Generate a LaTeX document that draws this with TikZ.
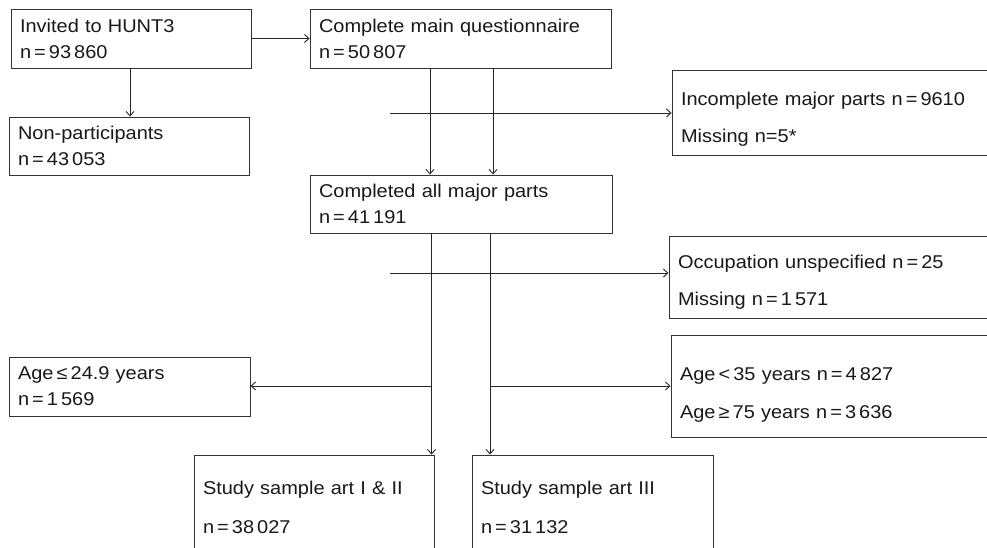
\documentclass[tikz,border=0pt]{standalone}
\usepackage{fontspec}
\setmainfont{Liberation Sans}[WordSpace=1.8, FakeStretch=1.08]
\usetikzlibrary{arrows.meta}
\begin{document}
\begin{tikzpicture}[x=1pt,y=-1pt,
  box/.style={draw=black!80, line width=0.9pt, inner xsep=9pt, inner ysep=0pt,
    align=left, anchor=center, text=black!90,
    font=\fontsize{18.5}{26}\selectfont},
  conn/.style={draw=black!85, line width=0.9pt},
  arr/.style={conn, -{Straight Barb[length=4.5pt,width=8pt]}}]
\useasboundingbox (0,0) rectangle (987,547);
\fill[white] (0,0) rectangle (987,547);
\clip (0,0) rectangle (987,547);

\node[box, text width=222pt, minimum height=59pt] (inv) at (131,38.5)
  {Invited to HUNT3\\n\,=\,93\,860};
\node[box, text width=283pt, minimum height=59pt] (cmq) at (460.5,38.5)
  {Complete main questionnaire\\n\,=\,50\,807};
\node[box, text width=222pt, minimum height=58pt] (non) at (129,146)
  {Non-participants\\n\,=\,43\,053};
\node[box, text width=310pt, minimum height=85pt, text height=27pt] (inc) at (836,112.5)
  {Incomplete major parts n\,=\,9610\\[11pt]Missing n=5*};
\node[box, text width=284pt, minimum height=58pt] (cam) at (461,204)
  {Completed all major parts\\n\,=\,41\,191};
\node[box, text width=313pt, minimum height=82pt, text height=23pt] (occ) at (834.5,277)
  {Occupation unspecified n\,=\,25\\[11pt]Missing n\,=\,1\,571};
\node[box, text width=223pt, minimum height=59pt] (ageA) at (129.5,386.5)
  {Age\,≤\,24.9 years\\n\,=\,1\,569};
\node[box, text width=311pt, minimum height=102pt, text height=30pt] (ageB) at (835.5,386)
  {Age\,<\,35 years n\,=\,4\,827\\[12pt]Age\,≥\,75 years n\,=\,3\,636};
\node[box, text width=222pt, minimum height=105pt] (stA) at (314,507.5)
  {Study sample art I \& II\\[13pt]n\,=\,38\,027};
\node[box, text width=223pt, minimum height=105pt] (stB) at (592.5,507.5)
  {Study sample art III\\[13pt]n\,=\,31\,132};

% guide coordinates
\coordinate (v0) at (130,0);
\coordinate (v1) at (430,0);
\coordinate (v2) at (493,0);
\coordinate (h1) at (390,113);
\coordinate (v3) at (431.5,0);
\coordinate (v4) at (490,0);
\coordinate (h2) at (390,273);
\coordinate (l1) at (431.5,386);
\coordinate (r1) at (490,386);

\draw[arr] (inv.east) -- (cmq.west);
\draw[arr] (inv.south -| v0) -- (non.north -| v0);
\draw[arr] (cmq.south -| v1) -- (cam.north -| v1);
\draw[arr] (cmq.south -| v2) -- (cam.north -| v2);
\draw[arr] (h1) -- (h1 -| inc.west);
\draw[arr] (cam.south -| v3) -- (stA.north -| v3);
\draw[arr] (cam.south -| v4) -- (stB.north -| v4);
\draw[arr] (h2) -- (h2 -| occ.west);
\draw[arr] (l1) -- (l1 -| ageA.east);
\draw[arr] (r1) -- (r1 -| ageB.west);
\end{tikzpicture}
\end{document}
